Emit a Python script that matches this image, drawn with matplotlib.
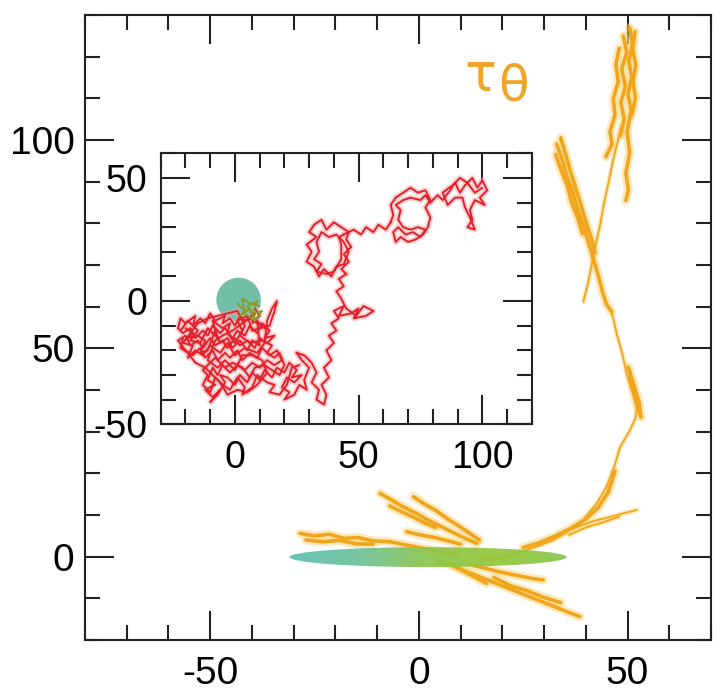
import numpy as np
import matplotlib
matplotlib.use("Agg")
import matplotlib.pyplot as plt
from matplotlib.patches import Ellipse, Circle
from matplotlib.colors import LinearSegmentedColormap
from matplotlib.ticker import MultipleLocator

plt.rcParams["font.family"] = ["Liberation Sans", "DejaVu Sans"]
plt.rcParams["axes.unicode_minus"] = False

# --- main panel: axes ---
main_xlim = (-80, 70)
main_ylim = (-20, 130)
main_xticks = [-50, 0, 50]
main_yticks = [0, 50, 100]

# --- inset: axes ---
inset_xlim = (-30, 120)
inset_ylim = (-50, 60)
inset_xticks = [0, 50, 100]
inset_yticks = [-50, 0, 50]

# --- main panel: orange trajectory (strands) ---
orange_top_a = [(50.5, 127), (51.2, 123), (50.3, 119), (51.0, 115), (50.1, 111), (50.9, 107),
                (49.9, 102), (50.5, 97), (49.6, 92), (50.2, 88), (49.6, 85.5)]
orange_top_b = [(49.0, 125), (49.8, 121), (48.6, 117), (49.5, 113), (48.4, 109), (49.2, 105), (48.3, 101)]
orange_top_c = [(51.8, 126), (51.2, 122), (52.0, 118), (51.3, 114), (51.9, 110), (51.0, 106)]
orange_top_d = [(48.0, 122), (47.2, 118), (47.8, 114), (46.6, 110), (47.0, 106), (45.8, 102),
                (46.3, 99), (44.8, 96)]
orange_line_b = [(48.6, 103.6), (47.6, 99.5), (46.5, 95), (45.6, 90.5), (44.4, 85), (43.5, 80),
                 (42.4, 75), (41.4, 70), (40.5, 65.5), (39.4, 61.2)]
orange_line_a1 = [(33.0, 99), (34.3, 95.5), (35.4, 91.5), (36.9, 87.5), (38.0, 83.5), (39.4, 79.5),
                  (40.6, 75.5), (41.8, 71.5), (43.0, 67.5), (44.0, 63.5), (45.0, 60.5), (46.2, 58.8)]
orange_line_a2 = [(34.0, 100.5), (35.2, 96.5), (36.3, 92.5), (37.6, 88.5), (38.8, 84.5), (40.0, 80.5),
                  (41.3, 76.5), (42.2, 73)]
orange_line_a3 = [(32.8, 96.5), (34.0, 93), (35.6, 89), (36.6, 85), (38.2, 81), (39.2, 77.5)]
orange_curve = [(46.2, 58.8), (47.4, 53.5), (48.8, 48.5), (49.8, 44), (51.0, 40), (52.3, 36),
                (51.8, 33), (50.4, 30), (48.2, 26.3), (46.8, 21.5), (45.0, 16.8), (42.5, 12.6),
                (39.4, 8.8), (35.6, 6.0), (32.2, 4.0), (28.0, 2.4), (24.0, 1.0), (20.0, -0.4), (15, -0.5)]
orange_curve2 = [(47.0, 20.5), (45.4, 15.5), (43.0, 11.8), (40.0, 9.0), (36.4, 6.8), (32.8, 5.0),
                 (29.0, 3.4), (25.0, 2.2)]
orange_bulge = [(50.2, 45.5), (51.6, 41), (52.8, 37), (53.2, 33.5), (52.2, 36.5), (51.2, 40.5), (50.6, 43)]
orange_branch = [(34, 5.6), (38, 7.2), (42, 8.6), (46, 9.6), (49, 10.4), (52.2, 11.2)]
orange_branch2 = [(36, 5.2), (40, 7.0), (44, 8.2), (48, 9.6)]
orange_left1 = [(-28.5, 5.6), (-25, 5.0), (-21.5, 5.4), (-18, 4.4), (-14.5, 4.6), (-11, 3.8),
                (-7, 3.6), (-3, 2.8), (1, 2.0), (5, 1.2), (9, 0.4)]
orange_left2 = [(-27, 4.0), (-23, 3.6), (-19, 3.9), (-15, 3.1), (-11, 3.0)]
orange_diag1 = [(-9.3, 15.2), (-6.5, 13.6), (-3.8, 12.0), (-1.0, 10.6), (1.8, 9.0), (4.6, 7.6),
                (7.4, 6.2), (10.2, 4.8), (13.9, 3.2)]
orange_diag2 = [(-1.3, 14.4), (1.4, 12.6), (4.2, 11.0), (7.0, 9.0), (9.8, 7.2), (12.2, 5.6), (14.5, 4.0)]
orange_diag3 = [(-7.0, 12.2), (-4.2, 10.8), (-1.5, 9.6), (1.2, 8.2), (4.0, 7.0)]
orange_diag4 = [(-2.9, 6.0), (0.5, 5.2), (3.8, 4.6), (7.0, 3.8), (10.0, 3.0)]
orange_low1 = [(5.0, -1.0), (9.0, -2.6), (13.0, -4.2), (17.0, -5.8), (21.0, -7.4), (25.0, -9.0),
               (29.0, -10.6), (33.0, -12.2), (36.0, -13.4), (38.6, -14.4)]
orange_low2 = [(8.0, -2.0), (11.0, -3.6), (14.0, -5.2), (16.2, -6.4)]
orange_low3 = [(12.0, -1.8), (16.0, -2.8), (20.0, -3.8), (24.0, -4.6), (27.0, -5.2), (29.8, -5.6)]
orange_low4 = [(18, -5.0), (22, -7.0), (26, -8.2), (30, -9.8), (34, -11.0)]

# thick (dense) strands and thin connecting strands
orange_thick = [orange_top_a, orange_top_b, orange_top_c, orange_top_d,
                orange_line_a1, orange_line_a2, orange_line_a3, orange_bulge,
                orange_left1, orange_left2, orange_diag1, orange_diag2, orange_diag3,
                orange_diag4, orange_low1, orange_low2, orange_low3, orange_low4,
                orange_curve2]
orange_thin = [orange_line_b, orange_curve, orange_branch, orange_branch2]

# green ellipse around the origin
ellipse_center = (2.2, -0.1)
ellipse_width = 66.4
ellipse_height = 4.8

# --- inset: red random walk ---
red_cluster = [
    (8, -3), (10, -6), (7, -9), (8, -5), (4, -8), (2, -6), (0, -10), (-2, -7), (-5, -9), (-4, -6),
    (-8, -8), (-10, -5), (-12, -9), (-14, -7), (-17, -10), (-16, -6), (-20, -9), (-22, -7), (-23, -11),
    (-21, -13), (-18, -11), (-16, -15), (-13, -12), (-11, -14), (-9, -10), (-6, -13), (-4, -11),
    (-1, -15), (1, -12), (4, -14), (6, -10), (9, -13), (11, -9), (14, -12), (12, -15), (16, -14),
    (13, -17), (10, -15), (8, -19), (5, -16), (2, -18), (0, -15), (-3, -19), (-5, -16), (-8, -18),
    (-10, -15), (-13, -19), (-15, -16), (-18, -18), (-20, -14), (-23, -16),
    (-20, -20), (-17, -22), (-14, -19), (-12, -23), (-9, -20), (-7, -24), (-4, -21), (-2, -23),
    (1, -20), (3, -24), (6, -21), (9, -23), (11, -19), (14, -22), (17, -20), (19, -24),
    (16, -26), (13, -24), (10, -27), (7, -25), (4, -28), (1, -26), (-2, -29), (-5, -26), (-7, -30),
    (-9, -27), (-11, -32), (-8, -34), (-12, -36), (-9, -39), (-6, -36), (-10, -41), (-7, -38),
    (-4, -33), (-6, -30), (-3, -31), (0, -34), (2, -30), (5, -33), (7, -29), (10, -32), (12, -28),
    (15, -31), (17, -27), (20, -29), (22, -25), (25, -28), (23, -31), (27, -30), (24, -33),
    (21, -31), (19, -35), (22, -37), (20, -40), (24, -38), (26, -34), (29, -36), (28, -32),
    (30, -27), (27, -24), (25, -21),
]
red_cluster2 = [
    (-22, -12), (-19, -8), (-15, -12), (-18, -16), (-14, -17), (-11, -11), (-7, -15), (-9, -8),
    (-5, -11), (-2, -9), (-3, -13), (0, -17), (3, -12), (1, -8), (5, -6), (7, -12), (10, -11),
    (14, -10), (16, -4), (17, 0), (15, -3), (13, -8), (12, -17), (9, -21), (4, -19), (0, -22),
    (-3, -17), (-6, -21), (-10, -18), (-13, -22), (-16, -20), (-19, -23), (-17, -18), (-21, -17),
    (-18, -13), (-15, -9), (-11, -7), (-7, -6), (-3, -5), (1, -4), (4, -10), (2, -14), (6, -17),
    (11, -16), (15, -18), (13, -21), (16, -23), (18, -21), (20, -26), (18, -30), (15, -28),
    (12, -26), (8, -27), (6, -31), (3, -27), (-1, -25), (-4, -27), (-8, -23), (-10, -25),
    (-13, -28), (-11, -30), (-13, -34), (-10, -37), (-8, -31), (-5, -34), (-2, -36), (1, -31),
    (4, -35), (3, -38), (7, -35), (9, -30), (13, -33), (16, -34), (14, -37), (18, -38), (21, -34),
    (23, -27), (26, -26),
]
red_cluster3 = [
    (-20, -11), (-17, -13), (-19, -15), (-15, -14), (-12, -16), (-14, -21), (-11, -20), (-8, -12),
    (-6, -17), (-3, -15), (-1, -19), (2, -16), (5, -20), (7, -16), (10, -18), (9, -8), (12, -11),
    (6, -7), (3, -9), (-1, -12), (-5, -14), (-8, -16), (-11, -24), (-7, -27), (-4, -24), (0, -28),
    (3, -22), (7, -22), (11, -24), (13, -29), (9, -34), (5, -37), (1, -36), (-3, -38), (-6, -33),
    (-9, -30), (-12, -27), (-16, -25), (-19, -21), (-22, -19), (-21, -15),
]
red_path = [
    (25, -21), (28, -22), (31, -25), (33, -29), (31, -33), (34, -36), (33, -40), (36, -42),
    (37, -38), (35, -34), (38, -31), (36, -27), (39, -24), (37, -20), (40, -17), (38, -14),
    (41, -12), (39, -9), (42, -7), (40, -4), (44, -2), (42, -6), (47, -5), (50, -3), (48, -7),
    (53, -6), (56, -4), (52, -2), (49, -6), (45, -3), (43, 1), (41, 4), (44, 6), (42, 9), (45, 11),
]
red_ring1 = [
    (45, 11), (43, 13), (46, 16), (44, 19), (47, 22), (45, 25), (46, 28), (43, 30), (40, 32),
    (37, 29), (35, 33), (32, 31), (30, 28), (33, 26), (29, 23), (31, 20), (29, 16), (32, 14),
    (34, 10), (36, 13), (39, 10), (41, 14), (44, 15), (46, 20), (44, 24), (41, 27), (38, 26),
    (35, 28), (33, 24), (34, 20), (32, 17), (35, 15), (33, 12), (37, 11), (40, 12), (43, 17),
    (43, 23), (42, 26), (44, 27),
]
red_link = [(44, 27), (48, 29), (51, 27), (53, 30), (56, 28), (58, 31), (61, 29), (63, 32)]
red_ring2 = [
    (63, 32), (64, 35), (63, 39), (65, 42), (68, 44), (71, 46), (74, 44), (77, 45), (79, 41),
    (77, 38), (79, 34), (78, 30), (76, 27), (73, 25), (70, 24), (67, 26), (65, 24), (64, 28),
    (66, 30), (69, 27), (72, 28), (75, 26), (77, 29), (74, 30), (71, 29), (68, 30), (66, 33),
    (67, 37), (65, 39), (68, 41), (71, 42), (75, 41), (77, 43), (79, 40),
]
red_end = [
    (79, 40), (82, 43), (84, 41), (87, 45), (89, 48), (91, 44), (93, 47), (96, 50), (98, 46),
    (100, 49), (102, 45), (99, 42), (101, 39), (97, 41), (95, 37), (96, 33), (94, 30), (97, 29),
    (95, 34), (93, 38), (92, 42), (89, 42), (86, 39), (84, 44), (88, 47), (91, 50), (94, 48),
    (97, 44), (100, 46),
]
red_strands = [red_cluster, red_cluster2, red_cluster3, red_path, red_ring1, red_link,
               red_ring2, red_end]

# start of the walk, inside the circle
olive_start = [(1, -1), (4, -4), (2, -6), (6, -3), (8, -7), (5, -2), (9, 0), (7, -5), (11, -4),
               (8, -8), (4, -5), (3, 1), (6, -1), (10, -2)]

circle_center = (1.5, 0.5)
circle_radius = 9.0

ORANGE = "#f0a51c"
ORANGE_HALO = "#f8d47a"
RED = "#e3202b"
RED_HALO = "#f5a5a5"


def style_axes(ax, xticks, yticks, xpad, ypad, fsize):
    ax.set_xticks(xticks)
    ax.set_yticks(yticks)
    ax.set_xticklabels([str(t) for t in xticks])
    ax.set_yticklabels([str(t) for t in yticks])
    ax.xaxis.set_minor_locator(MultipleLocator(10))
    ax.yaxis.set_minor_locator(MultipleLocator(10))
    ax.tick_params(which="both", direction="in", top=True, right=True, width=1.5, color="#222222")
    ax.tick_params(which="major", length=21)
    ax.tick_params(which="minor", length=10.5)
    ax.tick_params(axis="x", which="major", pad=xpad, labelsize=fsize)
    ax.tick_params(axis="y", which="major", pad=ypad, labelsize=fsize)
    for s in ax.spines.values():
        s.set_linewidth(1.5)
        s.set_color("#222222")


def draw_strands(ax, strands, color, halo, lw, halo_lw, zorder):
    for st in strands:
        xy = np.array(st, dtype=float)
        ax.plot(xy[:, 0], xy[:, 1], color=halo, lw=halo_lw, alpha=0.5,
                solid_capstyle="round", solid_joinstyle="round", zorder=zorder)
    for st in strands:
        xy = np.array(st, dtype=float)
        ax.plot(xy[:, 0], xy[:, 1], color=color, lw=lw,
                solid_capstyle="round", solid_joinstyle="round", zorder=zorder + 0.1)


def main():
    fig = plt.figure(figsize=(7.21, 6.92), dpi=100)

    # main panel
    ax = fig.add_axes([0.1179, 0.0751, 0.8682, 0.9032])
    draw_strands(ax, orange_thick, ORANGE, ORANGE_HALO, 2.6, 6.5, 2)
    draw_strands(ax, orange_thin, ORANGE, ORANGE_HALO, 1.3, 3.5, 2)

    # ellipse with teal -> green gradient
    ell = Ellipse(ellipse_center, ellipse_width, ellipse_height,
                  facecolor="none", edgecolor="none", transform=ax.transData)
    ax.add_patch(ell)
    cmap = LinearSegmentedColormap.from_list(
        "tealgreen", ["#5dbfb4", "#6cc29a", "#8cc64a", "#94c73c", "#8ac54a"])
    grad = np.linspace(0, 1, 256).reshape(1, -1)
    cx, cy = ellipse_center
    im = ax.imshow(grad, cmap=cmap, aspect="auto", interpolation="bilinear",
                   extent=(cx - ellipse_width / 2, cx + ellipse_width / 2,
                           cy - ellipse_height / 2, cy + ellipse_height / 2),
                   alpha=0.93, zorder=3)
    im.set_clip_path(ell)

    ax.set_xlim(*main_xlim)
    ax.set_ylim(*main_ylim)
    ax.set_aspect("auto")
    style_axes(ax, main_xticks, main_yticks, xpad=11.5, ypad=7.5, fsize=28)

    # tau_theta label
    ax.text(10.8, 111.8, "τ", color="#efa52a", fontsize=38, ha="left", va="baseline",
            family=["DejaVu Sans"])
    ax.text(19.0, 109.4, "θ", color="#efa52a", fontsize=36, ha="left", va="baseline",
            family=["DejaVu Sans"])

    # inset
    ins = fig.add_axes([0.2229, 0.3869, 0.5146, 0.3916])
    ins.set_facecolor("white")
    ins.add_patch(Circle(circle_center, circle_radius, facecolor="#62b89c",
                         edgecolor="none", alpha=0.9, zorder=1))
    draw_strands(ins, red_strands, RED, RED_HALO, 1.4, 4.2, 2)
    ol = np.array(olive_start, dtype=float)
    ins.plot(ol[:, 0], ol[:, 1], color="#8a9a2a", lw=1.3, zorder=4)
    ins.set_xlim(*inset_xlim)
    ins.set_ylim(*inset_ylim)
    style_axes(ins, inset_xticks, inset_yticks, xpad=11, ypad=9.5, fsize=27)

    fig.savefig("out.png", dpi=100)
    plt.close(fig)


if __name__ == "__main__":
    main()
